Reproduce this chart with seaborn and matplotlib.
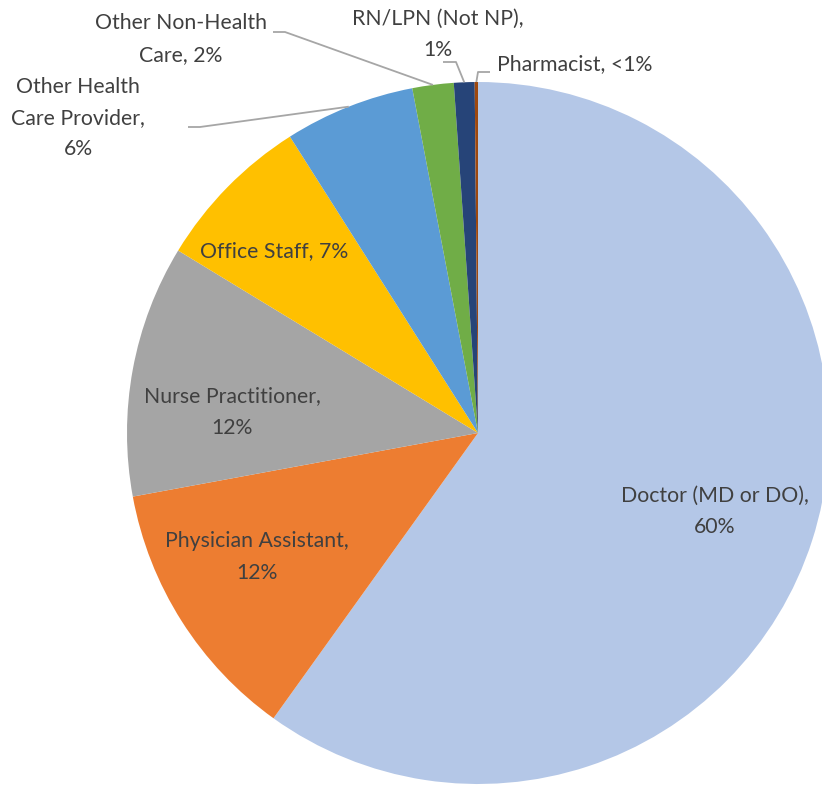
#!/usr/bin/env python3
import numpy as np
import matplotlib
matplotlib.use("Agg")
import matplotlib.pyplot as plt
import seaborn as sns

# data
roles = ["Doctor (MD or DO)", "Physician Assistant", "Nurse Practitioner", "Office Staff",
         "Other Health Care Provider", "Other Non-Health Care", "RN/LPN (Not NP)", "Pharmacist"]
shares = [59.9, 12.2, 11.6, 7.3, 6.0, 1.9, 0.95, 0.15]
pct_text = ["60%", "12%", "12%", "7%", "6%", "2%", "1%", "<1%"]
colors = ["#B4C7E7", "#ED7D31", "#A5A5A5", "#FFC000", "#5B9BD5", "#70AD47", "#264478", "#9E480E"]

sns.set_theme(style="white")
plt.rcParams['font.family'] = ['Lato', 'DejaVu Sans']

W, H = 822, 786
cx, cy, R = 478, 433, 351

def px(x, y):
    return (x - cx) / R, (cy - y) / R

fig = plt.figure(figsize=(W / 100, H / 100), dpi=100)
ax = fig.add_axes([0, 0, 1, 1])
wedges, _ = ax.pie(shares, colors=colors, startangle=90, counterclock=False,
                   radius=1, wedgeprops=dict(linewidth=0))
ax.set_xlim(px(0, 0)[0], px(W, 0)[0])
ax.set_ylim(px(0, H)[1], px(0, 0)[1])
ax.set_aspect("auto")
ax.axis("off")

tcol = "#404040"
fs = 15.3
ls = 1.7
# labels inside the pie
inside = {
    0: ("Doctor (MD or DO),\n60%", 715, 511),
    1: ("Physician Assistant,\n12%", 257, 557),
    2: ("Nurse Practitioner,\n12%", 232, 412),
    3: ("Office Staff, 7%", 274, 251),
}
for i, (txt, x, y) in inside.items():
    ax.text(*px(x, y), txt, ha="center", va="center", fontsize=fs, color=tcol, linespacing=ls)

# outside labels with leader lines
outside = {
    4: ("Other Health\nCare Provider,\n6%", 78, 118, [(188, 127), (200, 127)]),
    5: ("Other Non-Health\nCare, 2%", 181, 39, [(273, 32), (285, 32)]),
    6: ("RN/LPN (Not NP),\n1%", 438, 34, [(443, 62), (456, 62)]),
    7: ("Pharmacist, <1%", 575, 64, [(490, 72), (478, 72)]),
}
lcol = "#A6A6A6"
for i, (txt, x, y, elbow) in outside.items():
    ax.text(*px(x, y), txt, ha="center", va="center", fontsize=fs, color=tcol, linespacing=ls)
    w = wedges[i]
    mid = np.deg2rad((w.theta1 + w.theta2) / 2)
    end = (np.cos(mid), np.sin(mid))
    pts = [px(*p) for p in elbow] + [end]
    ax.plot([p[0] for p in pts], [p[1] for p in pts], color=lcol, lw=1.3, solid_capstyle="butt")

fig.savefig("out.png", dpi=100)
